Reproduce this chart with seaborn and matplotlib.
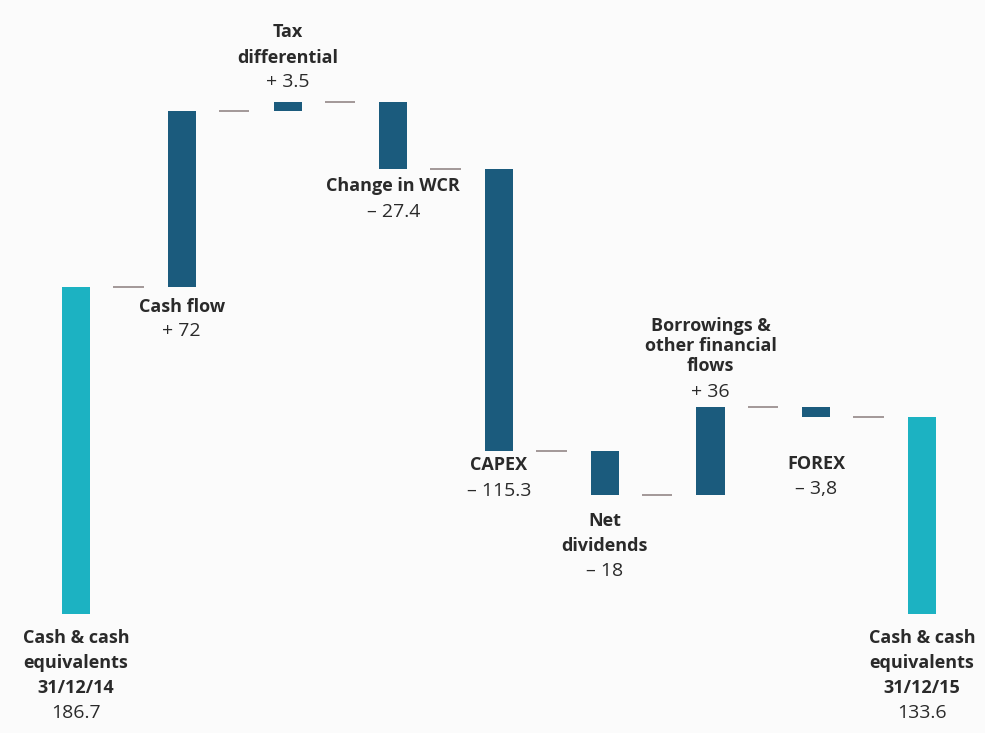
import numpy as np
import pandas as pd
import matplotlib
matplotlib.use("Agg")
import matplotlib.pyplot as plt
import seaborn as sns

# Cash bridge 2015 (in millions)
steps = ["Cash & cash\nequivalents\n31/12/14", "Cash flow", "Tax\ndifferential",
         "Change in WCR", "CAPEX", "Net\ndividends",
         "Borrowings &\nother financial\nflows", "FOREX",
         "Cash & cash\nequivalents\n31/12/15"]
value_labels = ["186.7", "+ 72", "+ 3.5", "\u2013 27.4", "\u2013 115.3", "\u2013 18",
                "+ 36", "\u2013 3,8", "133.6"]
opening_cash = 186.7
movements = [72, 3.5, -27.4, -115.3, -18, 36, -3.8]
closing_cash = 133.6
axis_floor = 53.0  # bars of the cash positions start from this truncated base

# text placement per bar: side of the bar, gap to first line (px), line step (px), value step (px)
label_side = ["below", "below", "above", "below", "below", "below", "above", "below", "below"]
label_gap = [24, 20, 20, 17, 14, 26, 15, 47, 24]
line_step = [25, 24, 26, 26, 26, 25, 20, 25, 25]
value_step = [25, 24, 24, 26, 26, 25, 26, 25, 25]

TOTAL_COLOR = "#1cb2c2"
MOVE_COLOR = "#1b5b7d"
BG = "#fbfbfb"
TEXT = "#2a2a2a"

# waterfall geometry
levels = np.concatenate([[opening_cash], opening_cash + np.cumsum(movements)])
bases, heights, kinds = [axis_floor], [opening_cash - axis_floor], ["total"]
for k, m in enumerate(movements):
    lo = min(levels[k], levels[k + 1])
    bases.append(lo)
    heights.append(abs(m))
    kinds.append("move")
bases.append(axis_floor)
heights.append(closing_cash - axis_floor)
kinds.append("total")

df = pd.DataFrame({"step": [s.replace("\n", " ") + f" #{i}" for i, s in enumerate(steps)],
                   "height": heights, "base": bases, "kind": kinds})

sns.set_theme(style="white")
plt.rcParams["font.family"] = ["Open Sans", "DejaVu Sans"]

fig = plt.figure(figsize=(9.85, 7.33), dpi=100, facecolor=BG)
ax = fig.add_axes([0, 0, 1, 1])
ax.set_facecolor(BG)

sns.barplot(data=df, x="step", y="height", bottom=df["base"].to_numpy(),
            color=MOVE_COLOR, width=0.265, saturation=1, errorbar=None,
            linewidth=0, ax=ax)
for patch, kind in zip(ax.patches, df["kind"]):
    patch.set_facecolor(TOTAL_COLOR if kind == "total" else MOVE_COLOR)
    patch.set_edgecolor("none")

# connectors between consecutive bars
conn_levels = list(levels)
for i, lvl in enumerate(conn_levels):
    ax.plot([i + 0.35, i + 0.64], [lvl, lvl], color="#9b9090", lw=1.3,
            solid_capstyle="butt", zorder=1)

ax.set_xlim(-0.719, 8.596)
ax.set_ylim(4.3, 304.1)
ax.axis("off")

# labels
tops = [b + h for b, h in zip(bases, heights)]
for i, text in enumerate(steps):
    lines = text.split("\n")
    n = len(lines)
    if label_side[i] == "below":
        anchor = bases[i]
        offs = [-(label_gap[i] + j * line_step[i]) for j in range(n)]
        voff = offs[-1] - value_step[i]
    else:
        anchor = tops[i]
        voff = label_gap[i]
        offs = [voff + value_step[i] + (n - 1 - j) * line_step[i] for j in range(n)]
    for line, off in zip(lines, offs):
        ax.annotate(line, xy=(i, anchor), xytext=(0, off), textcoords="offset pixels",
                    ha="center", va="center", fontsize=13, fontweight="bold",
                    color=TEXT)
    ax.annotate(value_labels[i], xy=(i, anchor), xytext=(0, voff),
                textcoords="offset pixels", ha="center", va="center",
                fontsize=14, color=TEXT)

fig.savefig("out.png", dpi=100, facecolor=BG)
